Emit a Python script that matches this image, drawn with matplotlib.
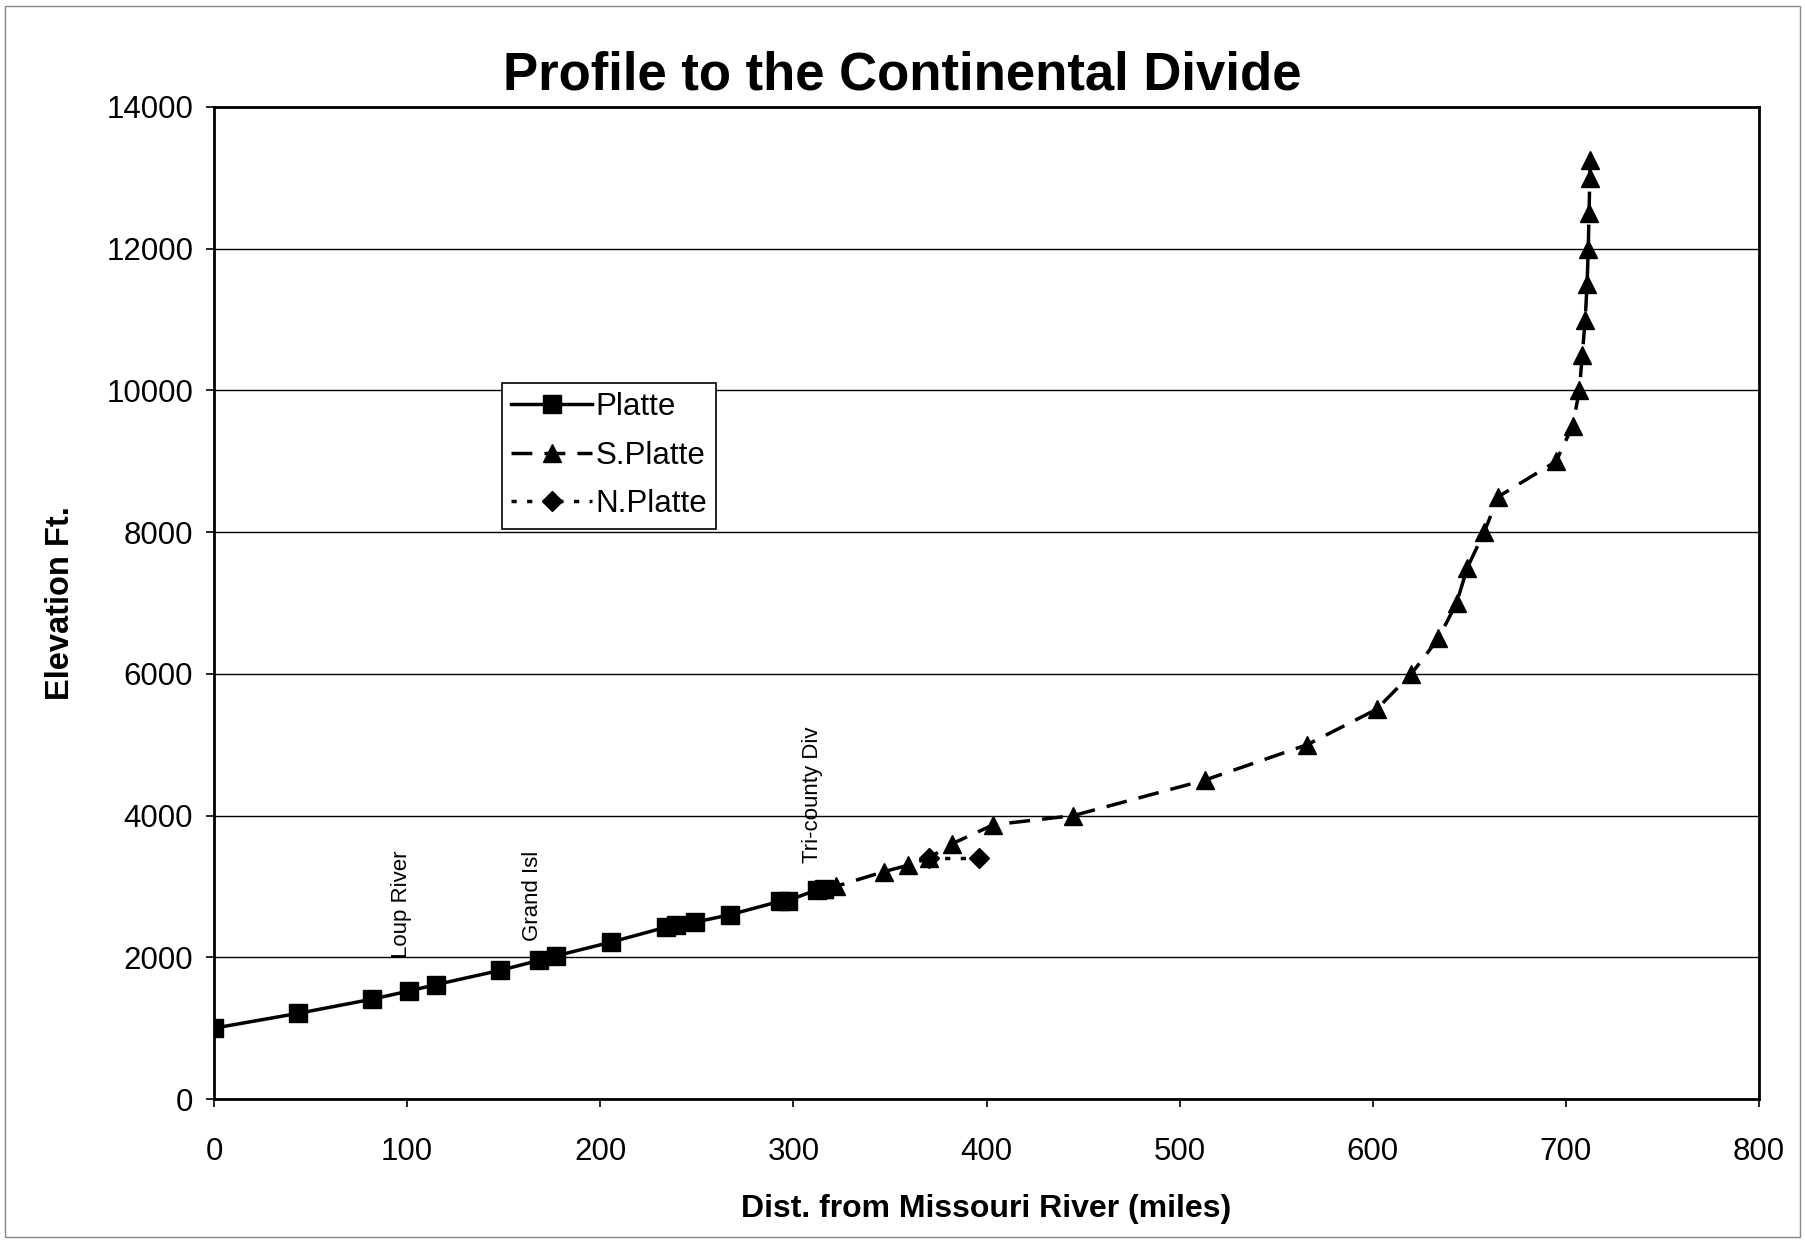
import matplotlib
matplotlib.use("Agg")
import matplotlib.pyplot as plt
from matplotlib.patches import Rectangle

# miles from the Missouri River / elevation in feet
platte_x = [0, 43.7, 82, 101, 115, 148, 168, 177, 205.7, 234, 239, 249, 267, 293, 297, 312, 316]
platte_y = [1000, 1210, 1410, 1525, 1615, 1815, 1955, 2020, 2215, 2425, 2450, 2495, 2600, 2790, 2800, 2950, 2960]

splatte_x = [316, 322, 347, 359.5, 370, 382, 403.5, 445, 513, 566, 602, 620, 634, 643.4, 649,
             657.7, 665, 695, 703.5, 707, 708.5, 710, 711, 711.6, 712, 712.4, 712.6]
splatte_y = [2960, 3000, 3210, 3300, 3400, 3600, 3870, 4000, 4500, 5000, 5500, 6000, 6500, 7000, 7500,
             8000, 8500, 9000, 9500, 10000, 10500, 11000, 11500, 12000, 12500, 13000, 13250]

nplatte_x = [370, 396]
nplatte_y = [3400, 3400]

notes = ['Loup River', 'Grand Isl', 'Tri-county Div']
notes_x = [97, 165, 310]
notes_y = [1990, 2230, 3330]

x_ticks = list(range(0, 801, 100))
y_ticks = list(range(0, 14001, 2000))

plt.rcParams['font.family'] = ['Liberation Sans', 'DejaVu Sans']


def main():
    fig = plt.figure(figsize=(18.05, 12.41), dpi=100)
    ax = fig.add_axes([0.1186, 0.1144, 0.8559, 0.7994])

    ax.plot(platte_x, platte_y, color='black', linestyle='-', linewidth=2.5,
            marker='s', markersize=12.5, label='Platte', zorder=4)
    ax.plot(splatte_x, splatte_y, color='black', linestyle=(0, (6, 3.5)), linewidth=2.5,
            marker='^', markersize=13, label='S.Platte', zorder=3)
    ax.plot(nplatte_x, nplatte_y, color='black', linestyle=(0, (1.5, 3)), linewidth=2.5,
            marker='D', markersize=10, label='N.Platte', zorder=2)

    for t, x, y in zip(notes, notes_x, notes_y):
        ax.text(x, y, t, rotation=90, ha='center', va='bottom', fontsize=16)

    ax.set_xlim(0, 800)
    ax.set_ylim(0, 14000)
    ax.set_xticks(x_ticks)
    ax.set_yticks(y_ticks)
    ax.tick_params(direction='out', length=6, width=1.2, labelsize=22.5)
    ax.tick_params(axis='x', pad=21)
    ax.tick_params(axis='y', pad=9)
    ax.yaxis.grid(True, color='black', linewidth=1.0)
    ax.set_axisbelow(True)
    for s in ax.spines.values():
        s.set_linewidth(2)
        s.set_color('black')

    ax.set_xlabel('Dist. from Missouri River (miles)', fontsize=23, fontweight='bold', labelpad=20)
    ax.set_ylabel('Elevation Ft.', fontsize=23.5, fontweight='bold', labelpad=22)

    fig.text(0.5, 1 - 75 / 1241, 'Profile to the Continental Divide', ha='center', va='center',
             fontsize=38, fontweight='bold')

    leg = ax.legend(loc='upper left', bbox_to_anchor=(0.176, 0.738), fontsize=22.5,
                    frameon=True, fancybox=False, edgecolor='black', framealpha=1,
                    handlelength=2.6, handletextpad=0.1, borderpad=0.3, labelspacing=0.6)
    leg.get_frame().set_linewidth(1.2)

    fig.patches.append(Rectangle((0.003, 0.003), 0.994, 0.992, transform=fig.transFigure,
                                 fill=False, edgecolor='#888888', linewidth=1))

    fig.savefig('out.png', dpi=100)


if __name__ == '__main__':
    main()
